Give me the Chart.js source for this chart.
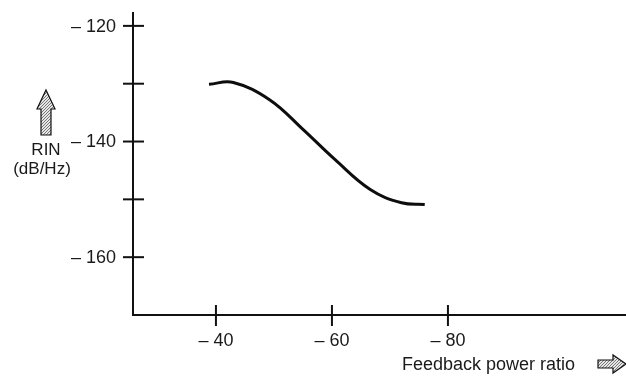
<!DOCTYPE html>
<html>
<head>
<meta charset="utf-8">
<script src="https://cdn.jsdelivr.net/npm/chart.js@4"></script>
<style>
  html, body { margin: 0; padding: 0; background: #fff; }
  #wrap { width: 626px; height: 377px; }
</style>
</head>
<body>
<div id="wrap"><canvas id="c" width="626" height="377"></canvas></div>
<script>
// Data
const feedbackRatio = [-38.8, -43.0, -49.3, -55.0, -60.5, -66.6, -72.0, -76.0];
const rinValues = [-130.1, -129.8, -132.8, -137.9, -143.1, -148.3, -150.6, -150.9];
const xTickValues = [-40, -60, -80];
const yTickValues = [-120, -130, -140, -150, -160];
const yLabelled = [-120, -140, -160];

const FONT = '"Liberation Sans", Arial, sans-serif';

// stippled fill for the hollow arrows
function stipple(ctx) {
    const p = document.createElement('canvas');
    p.width = 3; p.height = 3;
    const g = p.getContext('2d');
    g.fillStyle = '#e6e6e6'; g.fillRect(0, 0, 3, 3);
    g.fillStyle = '#777'; g.fillRect(0, 0, 1, 1); g.fillRect(2, 1, 1, 1); g.fillRect(1, 2, 1, 1);
    return ctx.createPattern(p, 'repeat');
}

const axesPlugin = {
    id: 'sketchAxes',
    afterDraw(chart) {
        const { ctx, chartArea: a, scales: { x, y } } = chart;
        ctx.save();
        ctx.strokeStyle = '#111';
        ctx.lineWidth = 2;
        // axis lines
        ctx.beginPath();
        ctx.moveTo(a.left, a.top);
        ctx.lineTo(a.left, a.bottom);
        ctx.lineTo(a.right, a.bottom);
        ctx.stroke();

        ctx.fillStyle = '#1a1a1a';
        ctx.font = '18px ' + FONT;
        // y ticks
        yTickValues.forEach(v => {
            const py = y.getPixelForValue(v);
            ctx.beginPath();
            ctx.moveTo(a.left - 10, py); ctx.lineTo(a.left + 11, py);
            ctx.stroke();
            if (yLabelled.includes(v)) {
                ctx.textAlign = 'right'; ctx.textBaseline = 'middle';
                ctx.fillText('\u2013 ' + Math.abs(v), a.left - 17, py + 1);
            }
        });
        // x ticks
        xTickValues.forEach(v => {
            const px = x.getPixelForValue(v);
            ctx.beginPath();
            ctx.moveTo(px, a.bottom - 10); ctx.lineTo(px, a.bottom + 11);
            ctx.stroke();
            ctx.textAlign = 'center'; ctx.textBaseline = 'middle';
            ctx.fillText('\u2013 ' + Math.abs(v), px, a.bottom + 26);
        });

        // axis titles
        ctx.font = '17px ' + FONT;
        ctx.textAlign = 'center';
        ctx.fillText('RIN', 46, 150);
        ctx.fillText('(dB/Hz)', 42, 169);
        ctx.textAlign = 'left';
        ctx.font = '18px ' + FONT;
        ctx.fillText('Feedback power ratio', 402, 365);

        // arrows
        ctx.lineWidth = 1.2;
        ctx.fillStyle = stipple(ctx);
        ctx.beginPath(); // up arrow
        ctx.moveTo(46, 90); ctx.lineTo(55, 109); ctx.lineTo(51, 109); ctx.lineTo(51, 135);
        ctx.lineTo(41, 135); ctx.lineTo(41, 109); ctx.lineTo(37, 109); ctx.closePath();
        ctx.fill(); ctx.stroke();
        ctx.beginPath(); // right arrow
        ctx.moveTo(598, 360); ctx.lineTo(613, 360); ctx.lineTo(613, 355); ctx.lineTo(626, 364);
        ctx.lineTo(613, 373); ctx.lineTo(613, 368); ctx.lineTo(598, 368); ctx.closePath();
        ctx.fill(); ctx.stroke();
        ctx.restore();
    }
};

new Chart(document.getElementById('c'), {
    type: 'line',
    data: {
        datasets: [{
            data: feedbackRatio.map((v, i) => ({ x: v, y: rinValues[i] })),
            borderColor: '#0d0d0d',
            borderWidth: 3,
            pointRadius: 0,
            tension: 0.4,
            fill: false
        }]
    },
    options: {
        responsive: false,
        animation: false,
        layout: { padding: { left: 133, right: 0, top: 12, bottom: 62 } },
        plugins: { legend: { display: false }, tooltip: { enabled: false } },
        scales: {
            x: { type: 'linear', reverse: true, min: -110.7, max: -25.7, display: false },
            y: { type: 'linear', min: -170, max: -117.6, display: false }
        }
    },
    plugins: [axesPlugin]
});
</script>
</body>
</html>
